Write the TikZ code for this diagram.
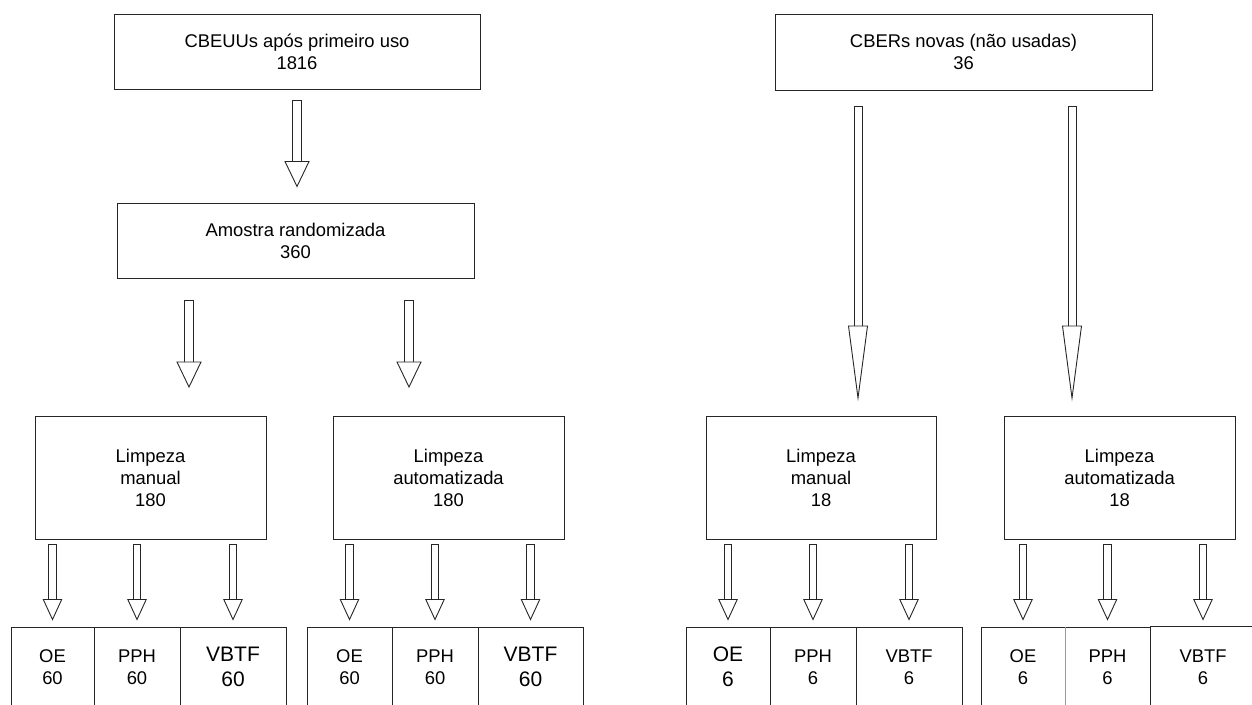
\documentclass[tikz,border=0pt]{standalone}
\usepackage{fontspec}
\setmainfont{Liberation Sans}
\usetikzlibrary{calc}
\tikzset{
  box/.style={draw=black!85, line width=1pt, fill=white, inner sep=0pt, align=center,
    text=black, font=\fontsize{18.4}{22}\selectfont},
  bigtext/.style={font=\fontsize{21}{25}\selectfont},
  barrowstyle/.style={draw=black!85, line width=0.9pt, fill=white, line join=miter},
}
\newcommand\blockarrow[5]{%
  \draw[barrowstyle] let \p1=(#1), \p2=(#2) in
    (\x1-#3,\y1) -- (\x1+#3,\y1) -- (\x1+#3,\y2+#5) -- (\x1-#3,\y2+#5) -- cycle;
  \draw[barrowstyle] let \p1=(#1), \p2=(#2) in
    (\x1-#4,\y2+#5) -- (\x1+#4,\y2+#5) -- (\x1,\y2) -- cycle;
}
\begin{document}
\begin{tikzpicture}[x=1pt,y=-1pt]
\path[use as bounding box] (0,0) rectangle (1252,704);
\clip (0,0) rectangle (1252,704);

% top boxes
\node[box, minimum width=366pt, minimum height=75pt] (cbeuu) at (297,51.5) {CBEUUs após primeiro uso\\1816};
\node[box, minimum width=377pt, minimum height=76pt] (cber) at (963.5,52) {CBERs novas (não usadas)\\36};
\node[box, minimum width=357pt, minimum height=75pt] (amostra) at (295.5,240.5) {Amostra randomizada\\360};

% limpeza boxes
\node[box, minimum width=231pt, minimum height=123pt] (lm1) at (150.5,477.5) {Limpeza\\manual\\180};
\node[box, minimum width=231pt, minimum height=123pt] (la1) at (448.5,477.5) {Limpeza\\automatizada\\180};
\node[box, minimum width=230pt, minimum height=123pt] (lm2) at (821,477.5) {Limpeza\\manual\\18};
\node[box, minimum width=231pt, minimum height=123pt] (la2) at (1119.5,477.5) {Limpeza\\automatizada\\18};

% bottom boxes
\node[box, minimum width=83pt, minimum height=80pt] (g1oe) at (52.5,667) {OE\\60};
\node[box, minimum width=86pt, minimum height=80pt] (g1pph) at (137,667) {PPH\\60};
\node[box, bigtext, minimum width=106pt, minimum height=80pt] (g1vbtf) at (233,667) {VBTF\\60};
\node[box, minimum width=85pt, minimum height=80pt] (g2oe) at (349.5,667) {OE\\60};
\node[box, minimum width=86pt, minimum height=80pt] (g2pph) at (435,667) {PPH\\60};
\node[box, bigtext, minimum width=105pt, minimum height=80pt] (g2vbtf) at (530.5,667) {VBTF\\60};
\node[box, bigtext, minimum width=84pt, minimum height=80pt] (g3oe) at (728,667) {OE\\6};
\node[box, minimum width=86pt, minimum height=80pt] (g3pph) at (813,667) {PPH\\6};
\node[box, minimum width=106pt, minimum height=80pt] (g3vbtf) at (909,667) {VBTF\\6};
\node[box, minimum width=84pt, minimum height=80pt] (g4oe) at (1023,667) {OE\\6};
\node[box, minimum width=85pt, minimum height=80pt] (g4pph) at (1107.5,667) {PPH\\6};
\node[box, draw=none, fill=none, minimum width=106pt, minimum height=80pt] (g4vbtf) at (1203,667) {VBTF\\6};
\draw[black!85, line width=1pt] (g4vbtf.north west) -- ($(g4vbtf.north east)+(40,0)$);
\draw[gray!80, line width=1.6pt] (g4oe.north east) -- (g4oe.south east);

% big arrow ends
\coordinate (a1s) at (189,300); \coordinate (a1e) at (189,387);
\coordinate (a2s) at (409,300); \coordinate (a2e) at (409,387);
\coordinate (a3s) at (858,106); \coordinate (a3e) at (858,398);
\coordinate (a4s) at (1072,106); \coordinate (a4e) at (1072,398);

\blockarrow{$(cbeuu.south)+(0,11)$}{$(amostra.north)+(0,-16)$}{4.5pt}{12pt}{25pt}
\blockarrow{a1s}{a1e}{4.5pt}{12pt}{25pt}
\blockarrow{a2s}{a2e}{4.5pt}{12pt}{25pt}
\blockarrow{a3s}{a3e}{4pt}{9.5pt}{72pt}
\blockarrow{a4s}{a4e}{4pt}{9.5pt}{72pt}

\foreach \b in {g1oe,g1pph,g1vbtf,g2oe,g2pph,g2vbtf,g3oe,g3pph,g3vbtf,g4oe,g4pph,g4vbtf}{
  \blockarrow{$(\b.north)+(0,-82)$}{$(\b.north)+(0,-7)$}{3.7pt}{9.2pt}{20pt}
}
\end{tikzpicture}
\end{document}
